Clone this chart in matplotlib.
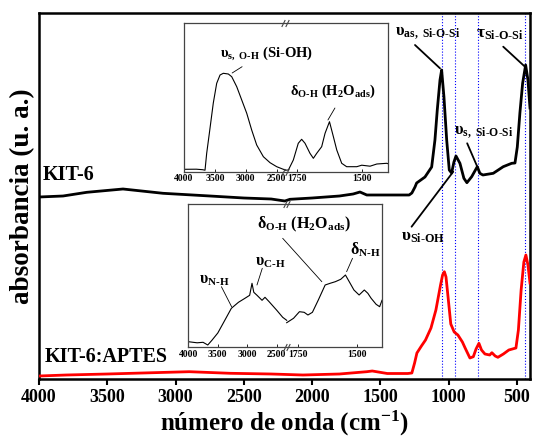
import matplotlib
matplotlib.use('Agg')
import numpy as np
import matplotlib.pyplot as plt

plt.rcParams['font.family'] = ['Liberation Serif', 'DejaVu Serif']
plt.rcParams['font.weight'] = 'bold'
plt.rcParams['axes.labelweight'] = 'bold'
plt.rcParams['mathtext.fontset'] = 'custom'
plt.rcParams['mathtext.rm'] = 'Liberation Serif:bold'
plt.rcParams['mathtext.bf'] = 'Liberation Serif:bold'
plt.rcParams['mathtext.it'] = 'Liberation Serif:bold'

# main spectra (wavenumber cm-1, absorbance a.u.)
kit6_wn = [4000, 3824, 3650, 3385, 3092, 2748, 2500, 2300, 2200, 2163, 2000, 1800, 1700,
           1650, 1600, 1400, 1290, 1270, 1247, 1235, 1174, 1125, 1101, 1084, 1064, 1052,
           1035, 1015, 996, 979, 962, 947, 918, 889, 867, 832, 791, 772, 750, 674, 601,
           539, 515, 498, 479, 459, 437, 420, 405]
kit6_ab = [182, 183, 186.7, 190, 185.7, 183, 181, 180, 178, 179.7, 181, 183, 185,
           187, 184, 184, 184, 186, 192, 196, 202, 212, 239, 269, 299, 309,
           282, 239, 209, 206, 217, 223, 215.7, 200.7, 196.3, 202.3, 212.3, 205.7, 204, 205.7, 212.3,
           215.7, 216, 232, 266, 295.7, 314, 299, 271]

aptes_wn = [4000, 3800, 3500, 3165, 2900, 2600, 2300, 2068, 1800, 1600, 1560, 1450, 1300,
            1270, 1250, 1233, 1200, 1170, 1130, 1094, 1060, 1045, 1032, 1020, 1005, 985,
            960, 933, 900, 880, 845, 820, 800, 779, 760, 735, 700, 684, 660, 640, 600,
            560, 508, 490, 470, 450, 435, 420, 405]
aptes_ab = [3, 4, 5, 6.3, 7.3, 5.7, 5, 4, 5, 7.3, 8, 5.5, 5.5,
            6, 16, 26, 33, 39, 51, 69, 94, 104, 107.3, 102, 82, 55,
            47, 44, 37, 31, 21, 22.3, 30, 35.7, 29, 25, 24, 26.3, 23, 21.7, 25,
            29, 31, 49, 89, 117, 124, 114, 96]

marker_lines = [1048, 955, 784, 442]
main_ticks = [4000, 3500, 3000, 2500, 2000, 1500, 1000, 500]

# inset 1: KIT-6 (broken axis: 4000-2366 | 1795-1399)
in1_wn_a = [4000, 3800, 3700, 3660, 3633, 3590, 3526, 3471, 3417, 3364, 3283, 3228, 3147,
            3066, 2985, 2905, 2824, 2716, 2608, 2500, 2393, 2366]
in1_ab_a = [2.4, 2.5, 2, 1.5, 18.4, 38.4, 68.7, 88.4, 96.7, 98.4, 97.7, 95, 85,
            71.7, 58.4, 41.7, 26.7, 15, 9, 5, 2.4, 2]
in1_wn_b = [1795, 1782, 1763, 1744, 1731, 1718, 1699, 1686, 1673, 1654, 1641, 1624, 1609,
            1596, 1577, 1558, 1519, 1500, 1468, 1442, 1404, 1399]
in1_ab_b = [1.5, 1.7, 11.7, 28.4, 32.4, 28.4, 18.4, 13.4, 18.4, 25, 38.4, 50, 35,
            21.7, 8.4, 5, 5, 6.5, 5.5, 7.7, 8.4, 8]

# inset 2: KIT-6:APTES (broken axis: 4000-2332 | 1799-1395)
in2_wn_a = [4000, 3850, 3750, 3670, 3600, 3500, 3400, 3270, 3150, 3040, 2960, 2920, 2890,
            2835, 2750, 2700, 2630, 2500, 2400, 2332]
in2_ab_a = [5.6, 4.5, 5, 2.3, 7, 14.3, 25, 39, 45, 49, 52, 64, 55,
            52, 47, 50, 45.6, 37, 30, 27]
in2_wn_b = [1799, 1770, 1745, 1725, 1709, 1690, 1665, 1636, 1615, 1593, 1570, 1550, 1530,
            1514, 1492, 1470, 1455, 1441, 1420, 1405, 1395]
in2_ab_b = [24.6, 29, 35.6, 35, 32.3, 35, 47.3, 62.3, 64, 65.6, 68, 72.3, 64,
            57.3, 52.3, 57.3, 54, 49, 43, 40.6, 47]
inset_ticks = [4000, 3500, 3000, 2500, 1750, 1500]

W, H = 534, 442


def box(l, t, r, b):
    return [l / W, 1 - b / H, (r - l) / W, (b - t) / H]


fig = plt.figure(figsize=(W / 100, H / 100), dpi=100)
ax = fig.add_axes(box(39, 13, 530, 379))
for x in marker_lines:
    ax.axvline(x, color='blue', ls=':', lw=0.8, zorder=1)
ax.plot(kit6_wn, kit6_ab, color='black', lw=2.0, zorder=3)
ax.plot(aptes_wn, aptes_ab, color='red', lw=2.0, zorder=3)
ax.set_xlim(4000, 405)
ax.set_ylim(0, 366)
ax.set_yticks([])
ax.set_xticks(main_ticks)
ax.tick_params(axis='x', direction='out', length=4, width=1.5, labelsize=13, pad=3)
for lbl in ax.get_xticklabels():
    lbl.set_fontweight('bold')
for s in ax.spines.values():
    s.set_linewidth(1.8)
ax.set_xlabel('número de onda (cm$^{-1}$)', fontsize=18, fontweight='bold', labelpad=2)
ax.set_ylabel('absorbancia (u. a.)', fontsize=19.5, fontweight='bold', labelpad=3)

ax.text(3970, 199, 'KIT-6', fontsize=14.5, va='baseline', ha='left')
ax.text(3962, 17, 'KIT-6:APTES', fontsize=14.5, va='baseline', ha='left')

lead = dict(arrowstyle='-', color='black', lw=1.3, shrinkA=0, shrinkB=0)
ax.text(1152, 346, r'$\mathbf{υ_{as,\ Si‐O‐Si}}$', fontsize=12, ha='center', va='center')
ax.annotate('', xy=(1064, 310.7), xytext=(1247, 334), arrowprops=lead)
ax.text(622, 345, r'$\mathbf{τ_{Si‐O‐Si}}$', fontsize=12.5, ha='center', va='center')
ax.annotate('', xy=(442, 312.3), xytext=(601, 332.3), arrowprops=lead)
ax.text(747, 247, r'$\mathbf{υ_{s,\ Si‐O‐Si}}$', fontsize=12, ha='center', va='center')
ax.annotate('', xy=(791, 212.3), xytext=(865, 235.7), arrowprops=lead)
ax.text(1187, 142, r'$\mathbf{υ_{Si‐OH}}$', fontsize=12.5, ha='center', va='center')
ax.annotate('', xy=(967, 207.3), xytext=(1272, 152.3), arrowprops=lead)


def broken_scale(wa, wb, a_lo, b_hi, b_lo):
    # piecewise linear wavenumber -> position, gap between a_lo and b_hi collapsed
    sa = wa / (4000 - a_lo)
    sb = wb / (b_hi - b_lo)
    eps = 1e-4

    def fwd(x):
        x = np.asarray(x, dtype=float)
        p = np.where(x >= a_lo, (4000 - x) * sa,
                     np.where(x <= b_hi, wa + eps + (b_hi - x) * sb,
                              wa + eps * (a_lo - x) / (a_lo - b_hi)))
        return -p

    def inv(q):
        p = -np.asarray(q, dtype=float)
        return np.where(p <= wa, 4000 - p / sa,
                        np.where(p >= wa + eps, b_hi - (p - wa - eps) / sb,
                                 a_lo - (p - wa) / eps * (a_lo - b_hi)))

    return fwd, inv


def make_inset(l, t, r, b, brk, a_lo, b_hi, b_lo, wa, ya, wb, yb):
    ai = fig.add_axes(box(l, t, r, b))
    ai.set_xscale('function', functions=broken_scale(brk - l, r - brk, a_lo, b_hi, b_lo))
    ai.plot(wa, ya, color='black', lw=0.8)
    ai.plot(wb, yb, color='black', lw=0.8)
    ai.set_xlim(4000, b_lo)
    ai.set_ylim(0, b - t)
    ai.set_yticks([])
    ai.set_xticks(inset_ticks)
    ai.set_xticklabels([str(v) for v in inset_ticks])
    ai.xaxis.set_minor_locator(plt.NullLocator())
    ai.tick_params(axis='x', direction='in', length=2, width=0.6, labelsize=7, pad=2)
    for lbl in ai.get_xticklabels():
        lbl.set_fontweight('bold')
    for s in ai.spines.values():
        s.set_linewidth(0.9)
        s.set_color('#444444')
    fx = (brk - l) / (r - l)
    d = dict(marker=[(-1, -2), (1, 2)], markersize=5, linestyle='none', color='#444444',
             mec='#444444', mew=0.8, clip_on=False)
    ai.plot([fx - 0.008, fx - 0.008, fx + 0.008, fx + 0.008], [0, 1, 0, 1],
            transform=ai.transAxes, **d)
    return ai


thin = dict(arrowstyle='-', color='black', lw=0.6, shrinkA=0, shrinkB=0)

i1 = make_inset(184, 22.7, 388, 171.7, 285, 2366, 1795, 1399,
                in1_wn_a, in1_ab_a, in1_wn_b, in1_ab_b)
i1.text(2668, 118.7, r'$\mathbf{υ_{s,\ O‐H}}$ (Si-OH)', fontsize=10.5, ha='center', va='center')
i1.annotate('', xy=(3221, 98.7), xytext=(3060, 105), arrowprops=thin)
i1.text(1612, 80, r'$\mathbf{δ_{O‐H}}$ (H$\mathbf{_2}$O$\mathbf{_{ads}}$)', fontsize=10.5,
        ha='center', va='center')
i1.annotate('', xy=(1630, 51.7), xytext=(1603, 63.7), arrowprops=thin)

i2 = make_inset(188.3, 204, 382, 347.3, 286.7, 2332, 1799, 1395,
                in2_wn_a, in2_ab_a, in2_wn_b, in2_ab_b)
i2.text(3556, 67.3, r'$\mathbf{υ_{N‐H}}$', fontsize=11.5, ha='center', va='center')
i2.annotate('', xy=(3266, 40.6), xytext=(3439, 60.6), arrowprops=thin)
i2.text(2615, 85.6, r'$\mathbf{υ_{C‐H}}$', fontsize=11.5, ha='center', va='center')
i2.annotate('', xy=(2836, 62.3), xytext=(2746, 79), arrowprops=thin)
i2.text(1726, 123.3, r'$\mathbf{δ_{O‐H}}$ (H$\mathbf{_2}$O$\mathbf{_{ads}}$)', fontsize=11.5,
        ha='center', va='center')
i2.annotate('', xy=(1650, 65.6), xytext=(2400, 109), arrowprops=thin)
i2.text(1466, 97.3, r'$\mathbf{δ_{N‐H}}$', fontsize=11.5, ha='center', va='center')
i2.annotate('', xy=(1545, 75.6), xytext=(1520, 89), arrowprops=thin)

fig.savefig('out.png', dpi=100)
